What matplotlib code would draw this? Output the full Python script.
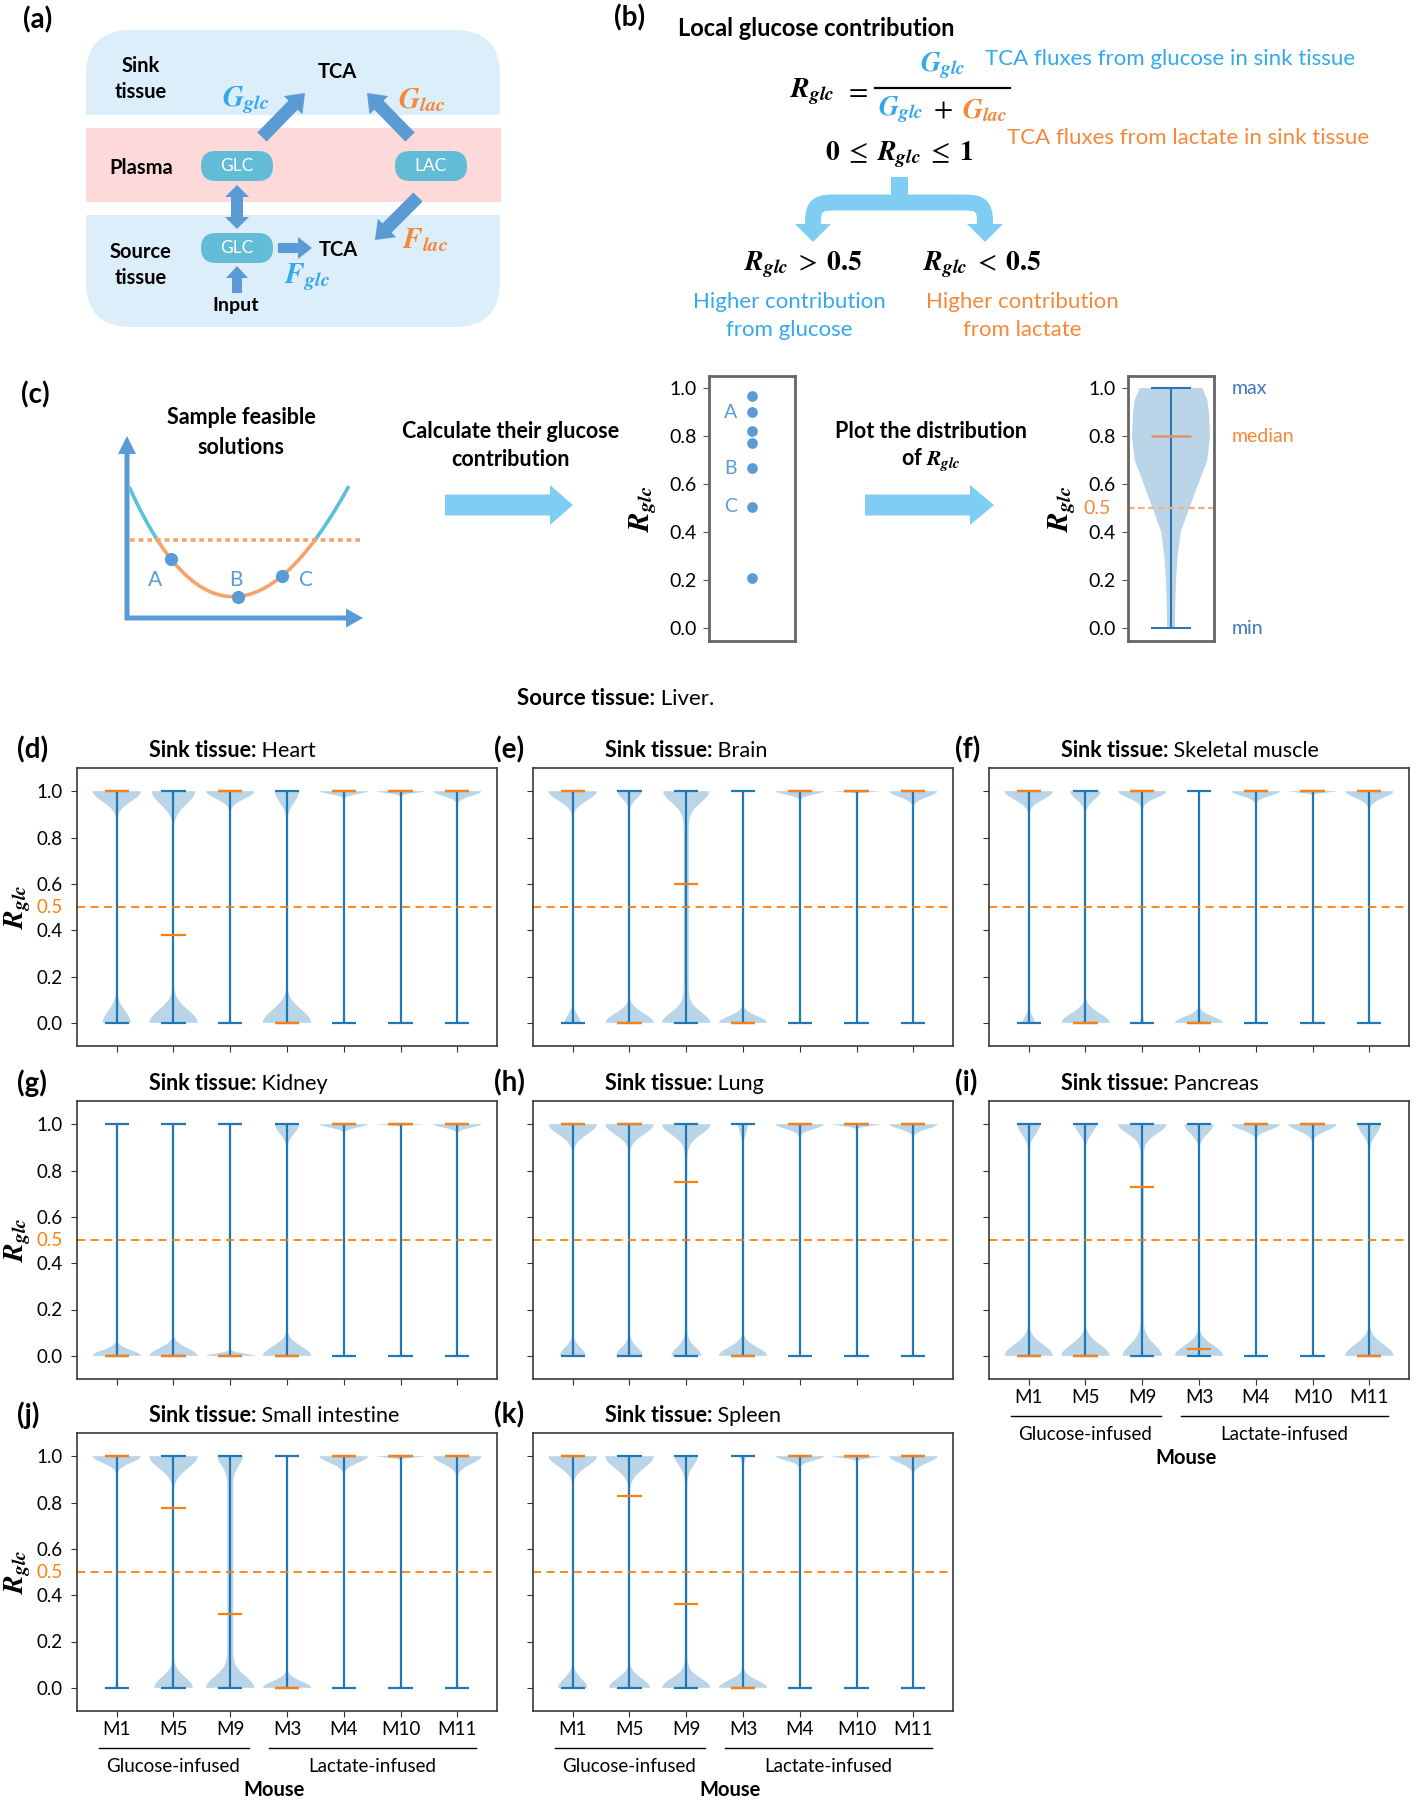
import numpy as np
import matplotlib
matplotlib.use('Agg')
import matplotlib.pyplot as plt
from matplotlib.patches import FancyBboxPatch, Rectangle, FancyArrow, Polygon, PathPatch
from matplotlib.path import Path
from matplotlib.transforms import blended_transform_factory, offset_copy

plt.rcParams['font.family'] = ['Lato', 'DejaVu Sans']
plt.rcParams['mathtext.fontset'] = 'stix'

# ---------------- data ----------------
tissues = ['Heart', 'Brain', 'Skeletal muscle', 'Kidney', 'Lung',
           'Pancreas', 'Small intestine', 'Spleen']
panel_letters = ['(d)', '(e)', '(f)', '(g)', '(h)', '(i)', '(j)', '(k)']
mice = ['M1', 'M5', 'M9', 'M3', 'M4', 'M10', 'M11']
groups = ['Glucose-infused', 'Lactate-infused']
group_sizes = [3, 4]
R_MIN, R_MAX = 0.0, 1.0

# median R_glc per tissue (rows) and mouse (columns)
medians = [
    [1.0, 0.38, 1.0, 0.0, 1.0, 1.0, 1.0],
    [1.0, 0.0, 0.60, 0.0, 1.0, 1.0, 1.0],
    [1.0, 0.0, 1.0, 0.0, 1.0, 1.0, 1.0],
    [0.0, 0.0, 0.0, 0.0, 1.0, 1.0, 1.0],
    [1.0, 1.0, 0.75, 0.0, 1.0, 1.0, 1.0],
    [0.0, 0.0, 0.73, 0.03, 1.0, 1.0, 0.0],
    [1.0, 0.775, 0.32, 0.0, 1.0, 1.0, 1.0],
    [1.0, 0.83, 0.36, 0.0, 1.0, 1.0, 1.0],
]
# violin density: relative width of the bulge at R=1,
# how far it reaches down, the same for the bulge at R=0, and the body in between
top_width = [
    [1.0, 0.9, 1.0, 0.5, 1.0, 1.0, 1.0],
    [1.0, 0.5, 0.95, 0.02, 1.0, 1.0, 1.0],
    [1.0, 0.63, 1.0, 0.02, 1.0, 1.0, 1.0],
    [0.02, 0.02, 0.02, 0.5, 1.0, 1.0, 1.0],
    [1.0, 1.0, 1.0, 0.2, 1.0, 1.0, 1.0],
    [0.47, 0.45, 1.0, 0.6, 1.0, 1.0, 0.47],
    [1.0, 1.0, 0.45, 0.05, 1.0, 1.0, 1.0],
    [1.0, 1.0, 0.45, 0.13, 1.0, 1.0, 1.0],
]
top_depth = [
    [0.11, 0.14, 0.08, 0.12, 0.03, 0.02, 0.05],
    [0.10, 0.08, 0.12, 0.02, 0.035, 0.01, 0.06],
    [0.09, 0.09, 0.07, 0.02, 0.05, 0.015, 0.07],
    [0.02, 0.02, 0.02, 0.10, 0.035, 0.01, 0.035],
    [0.11, 0.11, 0.11, 0.10, 0.05, 0.02, 0.05],
    [0.11, 0.10, 0.10, 0.10, 0.06, 0.07, 0.11],
    [0.07, 0.13, 0.10, 0.03, 0.07, 0.015, 0.08],
    [0.11, 0.13, 0.10, 0.05, 0.045, 0.02, 0.07],
]
bottom_width = [
    [0.58, 1.0, 0.05, 1.0, 0.0, 0.0, 0.0],
    [0.33, 1.0, 1.0, 1.0, 0.0, 0.0, 0.0],
    [0.25, 1.0, 0.08, 1.0, 0.0, 0.0, 0.05],
    [1.0, 1.0, 1.0, 1.0, 0.0, 0.0, 0.0],
    [0.53, 0.55, 0.6, 1.0, 0.0, 0.0, 0.0],
    [1.0, 1.0, 0.8, 1.0, 0.0, 0.0, 1.0],
    [0.07, 0.8, 1.0, 1.0, 0.05, 0.0, 0.06],
    [0.6, 0.85, 1.0, 1.0, 0.0, 0.0, 0.03],
]
bottom_depth = [
    [0.13, 0.14, 0.05, 0.14, 0.0, 0.0, 0.0],
    [0.085, 0.10, 0.11, 0.07, 0.0, 0.0, 0.0],
    [0.07, 0.10, 0.06, 0.065, 0.0, 0.0, 0.05],
    [0.06, 0.08, 0.025, 0.10, 0.0, 0.0, 0.0],
    [0.09, 0.09, 0.09, 0.09, 0.0, 0.0, 0.0],
    [0.12, 0.12, 0.12, 0.11, 0.0, 0.0, 0.12],
    [0.06, 0.115, 0.12, 0.07, 0.05, 0.0, 0.05],
    [0.10, 0.10, 0.10, 0.08, 0.0, 0.0, 0.03],
]
body_width = [
    [0, 0, 0, 0, 0, 0, 0],
    [0, 0, 0.12, 0, 0, 0, 0],
    [0, 0, 0, 0, 0, 0, 0],
    [0, 0, 0, 0, 0, 0, 0],
    [0, 0, 0.05, 0, 0, 0, 0],
    [0, 0, 0.07, 0, 0, 0, 0],
    [0, 0, 0.14, 0, 0, 0, 0],
    [0, 0, 0.05, 0, 0, 0, 0],
]

# panel (c) example
example_r = [0.965, 0.90, 0.82, 0.77, 0.665, 0.505, 0.21]
example_tags = ['', 'A', '', '', 'B', 'C', '']
example_levels = [0.0, 0.1, 0.2, 0.3, 0.4, 0.5, 0.6, 0.7, 0.8, 0.9, 0.95, 1.0]
example_width = [0.10, 0.11, 0.13, 0.17, 0.25, 0.47, 0.70, 0.93, 1.0, 0.97, 0.93, 0.80]
example_median = 0.8

# ---------------- style ----------------
BLUE_T = '#35a8ee'
ORANGE_T = '#f5883a'
ARROW = '#5b9bd5'
LIGHT = '#7fcdf3'
C0 = '#1f77b4'
C1 = '#ff7f0e'
RG = r'$\mathbfit{R}_{\mathbfit{glc}}$'

W, H = 1416, 1800
fig = plt.figure(figsize=(W / 100, H / 100), dpi=100)
bg = fig.add_axes([0, 0, 1, 1])
bg.set_xlim(0, W)
bg.set_ylim(H, 0)
bg.axis('off')


def txt(x, y, s, size, **kw):
    kw.setdefault('ha', 'center')
    kw.setdefault('va', 'center')
    return bg.text(x, y, s, fontsize=size, **kw)


def arrow(x0, y0, x1, y1, w, hw, hl, color=ARROW):
    bg.add_patch(FancyArrow(x0, y0, x1 - x0, y1 - y0, width=w, head_width=hw,
                            head_length=hl, length_includes_head=True,
                            fc=color, ec='none', zorder=2))


# ---------------- panel (a) ----------------
txt(38, 20, '(a)', 20, weight='bold')
bg.add_patch(FancyBboxPatch((86, 30), 414, 297, boxstyle='round,pad=0,rounding_size=45',
                            fc='#ddeefb', ec='none', zorder=0))
bg.add_patch(Rectangle((86, 115), 415, 13, fc='white', ec='none', zorder=0.5))
bg.add_patch(Rectangle((86, 128), 415, 74, fc='#fdd9d9', ec='none', zorder=0.5))
bg.add_patch(Rectangle((86, 202), 415, 13, fc='white', ec='none', zorder=0.5))
for cx, cy, s in [(237, 166, 'GLC'), (431, 166, 'LAC'), (237, 248, 'GLC')]:
    bg.add_patch(FancyBboxPatch((cx - 36, cy - 15), 72, 30,
                                boxstyle='round,pad=0,rounding_size=15',
                                fc='#62bcd5', ec='none', zorder=1))
    txt(cx, cy, s, 12.5, color='white')
txt(141, 66, 'Sink', 14.5, weight='bold')
txt(141, 92, 'tissue', 14.5, weight='bold')
txt(141, 168, 'Plasma', 14.5, weight='bold')
txt(141, 252, 'Source', 14.5, weight='bold')
txt(141, 278, 'tissue', 14.5, weight='bold')
txt(337, 72, 'TCA', 14.5, weight='bold')
txt(338, 250, 'TCA', 14.5, weight='bold')
txt(236, 305, 'Input', 14, weight='bold')
txt(246, 100, r'$\mathbfit{G}_{\mathbfit{glc}}$', 21, color=BLUE_T)
txt(422, 100, r'$\mathbfit{G}_{\mathbfit{lac}}$', 21, color=ORANGE_T)
txt(425, 240, r'$\mathbfit{F}_{\mathbfit{lac}}$', 21, color=ORANGE_T)
txt(307, 277, r'$\mathbfit{F}_{\mathbfit{glc}}$', 21, color=BLUE_T)
arrow(262, 137, 305, 93, 13, 26, 17)
arrow(410, 137, 367, 93, 13, 26, 17)
arrow(418, 197, 375, 240, 13, 26, 17)
arrow(237, 207, 237, 185, 12, 24, 12)
arrow(237, 207, 237, 229, 12, 24, 12)
arrow(278, 248, 312, 248, 10, 22, 14)
arrow(237, 293, 237, 266, 10, 22, 12)

# ---------------- panel (b) ----------------
txt(630, 18, '(b)', 20, weight='bold')
txt(678, 28, 'Local glucose contribution', 17, weight='bold', ha='left')
txt(812, 92, RG, 20)
txt(856, 90, r'$=$', 20)
bg.plot([875, 1010], [88, 88], color='k', lw=1.6)
txt(943, 66, r'$\mathbfit{G}_{\mathbfit{glc}}$', 20, color=BLUE_T)
txt(901, 110, r'$\mathbfit{G}_{\mathbfit{glc}}$', 20, color=BLUE_T)
txt(943, 108, r'$+$', 20)
txt(985, 111, r'$\mathbfit{G}_{\mathbfit{lac}}$', 20, color=ORANGE_T)
txt(985, 59, 'TCA fluxes from glucose in sink tissue', 16, color=BLUE_T, ha='left')
txt(1007, 138, 'TCA fluxes from lactate in sink tissue', 16, color=ORANGE_T, ha='left')
txt(899, 155, r'$\mathbf{0}\;\leq\;\mathbfit{R}_{\mathbfit{glc}}\;\leq\;\mathbf{1}$', 20)
# branching arrow
bg.add_patch(Rectangle((891, 177), 17, 27, fc=LIGHT, ec='none', zorder=2))
branch = Path([(813, 226), (813, 222), (813, 203), (820, 202.5), (838, 202.5),
               (960, 202.5), (978, 202.5), (985, 203), (985, 222), (985, 226)],
              [Path.MOVETO, Path.LINETO, Path.CURVE4, Path.CURVE4, Path.CURVE4,
               Path.LINETO, Path.CURVE4, Path.CURVE4, Path.CURVE4, Path.LINETO])
bg.add_patch(PathPatch(branch, fill=False, ec=LIGHT, lw=11.5, capstyle='butt', zorder=2))
for hx in (813, 985):
    bg.add_patch(Polygon([(hx - 18, 224), (hx + 18, 224), (hx, 242)], closed=True,
                         fc=LIGHT, ec='none', zorder=2))
txt(803, 265, r'$\mathbfit{R}_{\mathbfit{glc}}\;>\;\mathbf{0.5}$', 20)
txt(982, 265, r'$\mathbfit{R}_{\mathbfit{glc}}\;<\;\mathbf{0.5}$', 20)
txt(789, 302, 'Higher contribution', 16, color=BLUE_T)
txt(789, 330, 'from glucose', 16, color=BLUE_T)
txt(1022, 302, 'Higher contribution', 16, color=ORANGE_T)
txt(1022, 330, 'from lactate', 16, color=ORANGE_T)

# ---------------- panel (c) ----------------
txt(35, 395, '(c)', 20, weight='bold')
txt(241, 418, 'Sample feasible', 15.5, weight='bold')
txt(241, 447, 'solutions', 15.5, weight='bold')
arrow(127, 620, 127, 436, 5, 18, 18)
arrow(125, 618, 363, 618, 5, 19, 17)
# schematic objective curve
sk_x = [130, 156, 171, 200, 238, 282, 314, 348]
sk_y = [488, 540, 558, 585, 597, 577, 540, 488]
cf = np.polyfit(sk_x, sk_y, 4)
cx = np.linspace(130, 348, 300)
cy = np.polyval(cf, cx)
bg.plot(cx, np.where(cy <= 541, cy, np.nan), color='#5bc0d8', lw=2.6, zorder=3)
bg.plot(cx, np.where(cy >= 539, cy, np.nan), color='#f6a26b', lw=2.6, zorder=3)
bg.plot([130, 361], [540, 540], color='#f6a26b', lw=2.6, dashes=(1.3, 1.1), zorder=2.5)
for px, lab, lx in [(171, 'A', 155), (238, 'B', 236), (282, 'C', 306)]:
    bg.plot(px, np.polyval(cf, px), 'o', ms=8.5, color=ARROW, zorder=4)
    txt(lx, 580, lab, 15, color=ARROW)
txt(511, 432, 'Calculate their glucose', 15.5, weight='bold')
txt(511, 460, 'contribution', 15.5, weight='bold')
arrow(445, 505, 573, 505, 21, 40, 23, color=LIGHT)
txt(931, 432, 'Plot the distribution', 15.5, weight='bold')
txt(931, 460, 'of ' + RG, 15.5, weight='bold')
arrow(865, 505, 994, 505, 21, 40, 24, color=LIGHT)


def demo_axes(left):
    ax = fig.add_axes([left / W, 1 - 641 / H, 86 / W, 265 / H])
    ax.set_xlim(0.45, 1.55)
    ax.set_ylim(-0.054, 1.05)
    ax.set_xticks([])
    ax.set_yticks([0, 0.2, 0.4, 0.6, 0.8, 1.0])
    ax.set_yticklabels(['0.0', '0.2', '0.4', '0.6', '0.8', '1.0'])
    ax.tick_params(axis='y', labelsize=14, length=4, color='#555', pad=5)
    for s in ax.spines.values():
        s.set_color('#666')
        s.set_linewidth(2)
    ax.set_ylabel(RG, fontsize=21)
    ax.yaxis.set_label_coords(-50 / 86, 0.5)
    return ax


ax_s = demo_axes(709)
ax_s.scatter(np.ones(len(example_r)), example_r, s=45, color=ARROW, zorder=3)
for r, tag in zip(example_r, example_tags):
    if tag:
        ax_s.annotate(tag, (1, r), xytext=(-11, 0), textcoords='offset points',
                      ha='right', va='center', fontsize=14, color=ARROW)

ax_v = demo_axes(1128)
ex = ax_v.violin([dict(coords=example_levels, vals=example_width, mean=example_median,
                       median=example_median, min=R_MIN, max=R_MAX)],
                 positions=[1], widths=1.0, showmedians=True)
for b in ex['bodies']:
    b.set_facecolor(C0)
    b.set_alpha(0.3)
    b.set_linewidth(0)
for k in ('cmaxes', 'cmins', 'cbars'):
    ex[k].set_color('#2e75b6')
    ex[k].set_linewidth(1.5)
ex['cmedians'].set_color('#e0906a')
ex['cmedians'].set_linewidth(1.8)
ax_v.axhline(0.5, color='#f4b183', lw=1.6, dashes=(3, 1.5))
ax_v.text(-17 / 86, 0.5, '0.5', transform=ax_v.get_yaxis_transform(),
          ha='right', va='center', fontsize=14, color=ORANGE_T)
ax_v.set_xlim(0.45, 1.55)
ax_v.set_ylim(-0.054, 1.05)
for lab, yv, col in [('max', 1.0, '#4472c4'), ('median', 0.8, ORANGE_T), ('min', 0.0, '#4472c4')]:
    ax_v.annotate(lab, (1, yv), xycoords=('axes fraction', 'data'), xytext=(13, 0),
                  textcoords='offset points', ha='left', va='center', fontsize=14, color=col)

# ---------------- panels (d)-(k) ----------------
t1 = txt(517, 709, 'Source tissue:', 16, weight='bold', ha='left', va='bottom')
bg.annotate(' Liver.', xy=(1, 0), xycoords=t1, ha='left', va='bottom', fontsize=16)

col_edges = [(77, 497), (533, 953), (989, 1409)]
row_edges = [(768, 1046), (1101, 1379), (1433, 1711)]
letter_x = [17, 494, 955]
coords = np.linspace(0, 1, 401)
positions = np.arange(1, len(mice) + 1)
bottom_panels = {5, 6, 7}

for i, tissue in enumerate(tissues):
    r, c = divmod(i, 3)
    x0, x1 = col_edges[c]
    y0, y1 = row_edges[r]
    ax = fig.add_axes([x0 / W, 1 - y1 / H, (x1 - x0) / W, (y1 - y0) / H])

    stats = []
    for j in range(len(mice)):
        v = np.full_like(coords, float(body_width[i][j]))
        if top_width[i][j] > 0:
            v += top_width[i][j] * np.exp(-0.5 * ((1 - coords) / (top_depth[i][j] / 2.5)) ** 2)
        if bottom_width[i][j] > 0:
            v += bottom_width[i][j] * np.exp(-0.5 * (coords / (bottom_depth[i][j] / 2.5)) ** 2)
        stats.append(dict(coords=coords, vals=v, mean=medians[i][j], median=medians[i][j],
                          min=R_MIN, max=R_MAX))
    parts = ax.violin(stats, positions=positions, widths=0.85, showmedians=True)
    for b in parts['bodies']:
        b.set_facecolor(C0)
        b.set_alpha(0.3)
        b.set_linewidth(0)
    for k in ('cmaxes', 'cmins', 'cbars'):
        parts[k].set_color(C0)
        parts[k].set_linewidth(1.6)
    parts['cmedians'].set_color(C1)
    parts['cmedians'].set_linewidth(1.6)
    ax.axhline(0.5, color=C1, lw=1.3, dashes=(4.5, 3))

    ax.set_yticks([0, 0.2, 0.4, 0.6, 0.8, 1.0])
    ax.set_xticks(positions)
    ax.tick_params(labelsize=13.5, length=4, color='#333')
    ax.tick_params(axis='y', pad=6.5)
    for s in ax.spines.values():
        s.set_color('#3a3a3a')
        s.set_linewidth(1.2)
    if c == 0:
        ax.set_yticklabels(['0.0', '0.2', '0.4', '0.6', '0.8', '1.0'])
        ax.text(-14 / (x1 - x0), 0.5, '0.5', transform=ax.get_yaxis_transform(),
                ha='right', va='center', fontsize=13.5, color=C1)
        ax.text((18 - x0) / (x1 - x0), 0.5, RG, transform=ax.transAxes, rotation=90,
                ha='center', va='center', fontsize=20)
    else:
        ax.set_yticklabels([])
    if i in bottom_panels:
        ax.set_xticklabels(mice)
        tr = blended_transform_factory(ax.transData, ax.transAxes)
        start = 0
        for g, n in zip(groups, group_sizes):
            a, b = positions[start], positions[start + n - 1]
            ax.plot([a - 0.32, b + 0.33], [0, 0], color='k', lw=1.0, clip_on=False,
                    transform=offset_copy(tr, fig=fig, y=-37 * 0.72, units='points'))
            ax.text((a + b) / 2, 0, g, ha='center', va='center', fontsize=13.5,
                    transform=offset_copy(tr, fig=fig, y=-55 * 0.72, units='points'))
            start += n
        ax.text(0.47, 0, 'Mouse', ha='center', va='center', fontsize=14.5, weight='bold',
                transform=offset_copy(ax.transAxes, fig=fig, y=-79 * 0.72, units='points'))
    else:
        ax.set_xticklabels([])
    ax.set_xlim(0.3, 7.7)
    ax.set_ylim(-0.1, 1.1)

    txt(letter_x[c], y0 - 18, panel_letters[i], 20, weight='bold', ha='left')
    tt = txt(x0 + 72, y0 - 7, 'Sink tissue:', 15.5, weight='bold', ha='left', va='bottom')
    bg.annotate(' ' + tissue, xy=(1, 0), xycoords=tt, ha='left', va='bottom', fontsize=15.5)

fig.savefig('out.png', dpi=100)
